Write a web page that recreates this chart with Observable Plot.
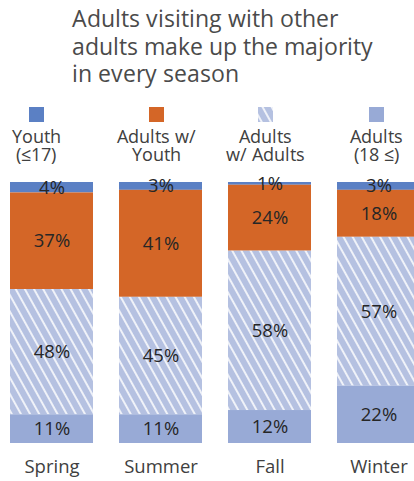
<!DOCTYPE html>
<html>
<head>
<meta charset="utf-8">
<script src="https://cdn.jsdelivr.net/npm/d3@7"></script>
<script src="https://cdn.jsdelivr.net/npm/@observablehq/plot@0.6"></script>
<style>
  @font-face { font-family: "OS Tight"; src: local("Open Sans"), local("Open Sans Regular"), local("OpenSans-Regular"); font-weight: 300 800; ascent-override: 78%; descent-override: 20%; line-gap-override: 0%; }
  html, body { margin: 0; padding: 0; background: #fff; overflow: hidden; width: 414px; height: 481px; }
  body { position: relative; font-family: "Open Sans", sans-serif; color: #404040; }
  #title { position: absolute; left: 72px; top: 7px; font-family: "OS Tight", "Open Sans", sans-serif; font-size: 23.2px; font-weight: 300; font-variation-settings: "wght" 300; white-space: nowrap; color: #4a4a4a; }
  #title div { height: 27.5px; line-height: 27.5px; }
  .leg { position: absolute; top: 107px; width: 110px; text-align: center; font-family: "OS Tight", "Open Sans", sans-serif; font-size: 17.5px; font-weight: 400; color: #404040; }
  .leg div { height: 17.5px; line-height: 17.5px; white-space: nowrap; }
  .leg svg { display: block; margin: 0 auto 8px auto; }
  #chart { position: absolute; left: 0; top: 170px; }
</style>
</head>
<body>
<div id="title"><div>Adults visiting with other</div><div>adults make up the majority</div><div>in every season</div></div>
<div id="legend"></div>
<div id="chart"></div>
<script>
const seasons = ["Spring", "Summer", "Fall", "Winter"];
const groups = ["Youth (≤17)", "Adults w/ Youth", "Adults w/ Adults", "Adults (18 ≤)"];
const legendLines = [["Youth", "(≤17)"], ["Adults w/", "Youth"], ["Adults", "w/ Adults"], ["Adults", "(18 ≤)"]];
const youth = [4, 3, 1, 3];
const adultsWithYouth = [37, 41, 24, 18];
const adultsWithAdults = [48, 45, 58, 57];
const adults18 = [11, 11, 12, 22];
const colors = ["#5b80c4", "#d46627", "url(#hatch)", "#98aad6"];

const series = [youth, adultsWithYouth, adultsWithAdults, adults18];
const data = [];
seasons.forEach((s, i) => groups.forEach((g, j) => data.push({season: s, group: g, value: series[j][i]})));

// pattern defs (global to document)
const NS = "http://www.w3.org/2000/svg";
const defsSvg = document.createElementNS(NS, "svg");
defsSvg.setAttribute("width", 0); defsSvg.setAttribute("height", 0);
defsSvg.style.position = "absolute";
defsSvg.innerHTML = `<defs><pattern id="hatch" patternUnits="userSpaceOnUse" width="8" height="8" patternTransform="rotate(-29)">
  <rect width="8" height="8" fill="#b5c1e1"></rect>
  <line x1="4" y1="-1" x2="4" y2="9" stroke="#ffffff" stroke-width="1.6"></line>
</pattern></defs>`;
document.body.appendChild(defsSvg);

// legend
const centers = [36, 156, 265, 376];
const legend = document.getElementById("legend");
groups.forEach((g, j) => {
  const d = document.createElement("div");
  d.className = "leg";
  d.style.left = (centers[j] - 55) + "px";
  d.innerHTML = `<svg width="15" height="15"><rect width="15" height="15" fill="${colors[j]}"></rect></svg>` +
    legendLines[j].map(t => `<div>${t}</div>`).join("");
  legend.appendChild(d);
});

const order = groups.slice().reverse();
const chart = Plot.plot({
  width: 414,
  height: 311,
  marginTop: 12,
  marginBottom: 38,
  marginLeft: 0,
  marginRight: 0,
  style: {fontFamily: "Open Sans, sans-serif", overflow: "visible", background: "transparent"},
  x: {domain: seasons, range: [10, 420], paddingInner: 0.24, paddingOuter: 0, label: null},
  y: {axis: null},
  color: {domain: groups, range: colors},
  marks: [
    Plot.barY(data, Plot.stackY({x: "season", y: "value", fill: "group", order, offset: "normalize"})),
    Plot.text(data, Plot.stackY({x: "season", y: "value", z: "group", order, offset: "normalize",
      text: d => d.value + "%", fill: "#262626", fontSize: 18.5})),
    Plot.axisX({tickSize: 0, tickPadding: 16, fontSize: 18.5, fill: "#404040", label: null})
  ]
});
document.getElementById("chart").appendChild(chart);
</script>
</body>
</html>
